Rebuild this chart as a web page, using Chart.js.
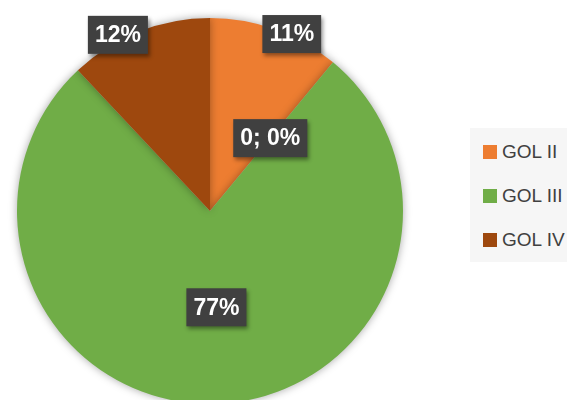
<!DOCTYPE html>
<html>
<head>
<meta charset="utf-8">
<script src="https://cdn.jsdelivr.net/npm/chart.js@4.4.1/dist/chart.umd.min.js"></script>
<style>
  html, body { margin: 0; padding: 0; background: #fff; overflow: hidden; }
  #wrap { position: relative; width: 567px; height: 404px; }
  #legend {
    position: absolute; left: 470px; top: 128px; width: 97px; height: 134px;
    background: #f6f6f6; font-family: "Liberation Sans", Arial, sans-serif;
    font-size: 19px; color: #404040; overflow: hidden;
  }
  .item { position: absolute; left: 13px; height: 22px; line-height: 22px; white-space: nowrap; }
  .item span.sw { display: inline-block; width: 14px; height: 14px; vertical-align: -1px; margin-right: 5px; }
</style>
</head>
<body>
<div id="wrap">
  <canvas id="chart"></canvas>
  <div id="legend"></div>
</div>
<script>
// ---------- Data ----------
// the empty category carries the "0; 0%" label, it is not in the legend
const categories = ["GOL II", "", "GOL III", "GOL IV"];
const values = [11, 0, 77, 12];
const pointLabels = ["11%", "0; 0%", "77%", "12%"];
const colors = ["#ED7D31", "#A5A5A5", "#70AD47", "#9E480E"];

// ---------- Label placement (radius factor, angle nudge in degrees) ----------
const labelRadius = [1.01, 0.49, 0.5, 1.03];
const labelNudge = [5, 0, -2, -6];

const shadowPlugin = {
  id: "pieShadow",
  beforeDatasetDraw(chart) {
    const ctx = chart.ctx;
    ctx.save();
    ctx.shadowColor = "rgba(0,0,0,0.35)";
    ctx.shadowBlur = 8;
  },
  afterDatasetDraw(chart) {
    chart.ctx.restore();
  }
};

const boxLabels = {
  id: "boxLabels",
  afterDatasetsDraw(chart) {
    const ctx = chart.ctx;
    const arcs = chart.getDatasetMeta(0).data;
    ctx.save();
    ctx.font = "bold 23px 'Liberation Sans', Arial, sans-serif";
    ctx.textAlign = "center";
    ctx.textBaseline = "middle";
    arcs.forEach((arc, i) => {
      const mid = (arc.startAngle + arc.endAngle) / 2 + labelNudge[i] * Math.PI / 180;
      const r = arc.outerRadius * labelRadius[i];
      const x = arc.x + Math.cos(mid) * r;
      const y = arc.y + Math.sin(mid) * r;
      const w = ctx.measureText(pointLabels[i]).width + 14;
      const h = 38;
      ctx.shadowColor = "rgba(0,0,0,0.4)";
      ctx.shadowBlur = 4;
      ctx.shadowOffsetX = 2;
      ctx.shadowOffsetY = 3;
      ctx.fillStyle = "#404040";
      ctx.fillRect(x - w / 2, y - h / 2, w, h);
      ctx.shadowColor = "transparent";
      ctx.fillStyle = "#ffffff";
      ctx.fillText(pointLabels[i], x, y + 1);
    });
    ctx.restore();
  }
};

new Chart(document.getElementById("chart"), {
  type: "pie",
  data: {
    labels: categories,
    datasets: [{
      data: values,
      backgroundColor: colors,
      borderWidth: 0
    }]
  },
  options: {
    responsive: true,
    maintainAspectRatio: false,
    animation: false,
    layout: { padding: { left: 17, right: 164, top: 18, bottom: 0 } },
    plugins: {
      legend: { display: false },
      tooltip: { enabled: false }
    }
  },
  plugins: [shadowPlugin, boxLabels]
});

// ---------- Legend ----------
const legend = document.getElementById("legend");
let row = 0;
categories.forEach((c, i) => {
  if (!c) return;
  const d = document.createElement("div");
  d.className = "item";
  d.style.top = (13 + row * 44) + "px";
  d.innerHTML = '<span class="sw" style="background:' + colors[i] + '"></span>' + c;
  legend.appendChild(d);
  row++;
});
</script>
</body>
</html>
